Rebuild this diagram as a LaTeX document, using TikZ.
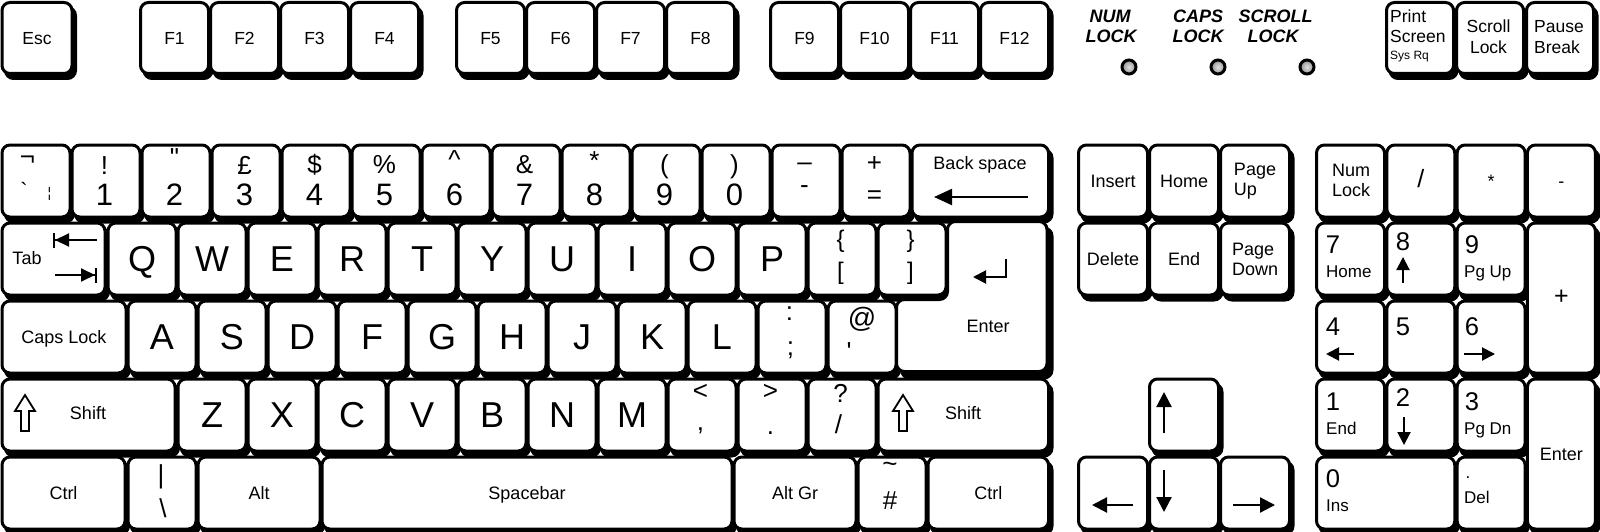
\documentclass[tikz,border=0pt]{standalone}
\usepackage{fontspec}
\setmainfont{Liberation Sans}
\newfontfamily\plainfont{Liberation Sans}
\usetikzlibrary{arrows.meta}
\newif\ifshadowpass
\newcommand\K[7][]{%
  \ifshadowpass
    \path[kshadow] (#3,#4) rectangle ++(#5,#6);%
  \else
    \node[keybox,minimum width=#5pt,minimum height=#6pt,#1] (#2) at (#3,#4) {#7};%
  \fi}
\newcommand\AllKeys{%
  % function row
  \K[fkey]{esc}{0.5}{1}{70}{71}{Esc}
  \foreach \n [count=\i from 0] in {1,2,3,4} {\K[fkey]{f\n}{139+70*\i}{1}{68}{71}{F\n}}
  \foreach \n [count=\i from 0] in {5,6,7,8} {\K[fkey]{f\n}{455+70*\i}{1}{68}{71}{F\n}}
  \foreach \n [count=\i from 0] in {9,10,11,12} {\K[fkey]{f\n}{769+70*\i}{1}{68}{71}{F\n}}
  \K{prt}{1385}{1}{67}{71}{}
  \K{scr}{1455}{1}{67}{71}{}
  \K{pau}{1525}{1}{67}{71}{}
  % number row
  \foreach \i in {0,...,12} {\K{num\i}{0.5+70*\i}{143.5}{68}{72}{}}
  \K{bksp}{910.5}{143.5}{136.5}{72}{}
  % qwerty row
  \K{tab}{0.5}{221.5}{103}{72}{}
  \foreach \l [count=\i from 0] in {Q,W,E,R,T,Y,U,I,O,P} {\K[bigl]{key\l}{106.5+70*\i}{221.5}{68}{72}{\l}}
  \K{lbrk}{806.5}{221.5}{68}{72}{}
  \K{rbrk}{876.5}{221.5}{68}{72}{}
  % home row
  \K{caps}{0.5}{299.5}{124}{72}{Caps Lock}
  \foreach \l [count=\i from 0] in {A,S,D,F,G,H,J,K,L} {\K[bigl]{key\l}{126.5+70*\i}{299.5}{68}{72}{\l}}
  \K{semi}{756.5}{299.5}{68}{72}{}
  \K{quot}{826.5}{299.5}{68}{72}{}
  \ifshadowpass
    \path[kshadow] (947.5,221.5) -- (1047,221.5) -- (1047,371.5) -- (896.5,371.5) -- (896.5,299.5) -- (947.5,299.5) -- cycle;
  \else
    \path[keypath] (947.5,221.5) -- (1047,221.5) -- (1047,371.5) -- (896.5,371.5) -- (896.5,299.5) -- (947.5,299.5) -- cycle;
  \fi
  % shift row
  \K{lshift}{0.5}{377.5}{173}{72}{}
  \foreach \l [count=\i from 0] in {Z,X,C,V,B,N,M} {\K[bigl]{key\l}{176.5+70*\i}{377.5}{68}{72}{\l}}
  \K{comma}{666.5}{377.5}{68}{72}{}
  \K{period}{736.5}{377.5}{68}{72}{}
  \K{slash}{806.5}{377.5}{68}{72}{}
  \K{rshift}{876.5}{377.5}{170.5}{72}{}
  % bottom row
  \K{lctrl}{0.5}{455.5}{123}{72}{Ctrl}
  \K{pipe}{126.5}{455.5}{68}{72}{}
  \K{alt}{196.5}{455.5}{122}{72}{Alt}
  \K{space}{320.5}{455.5}{410}{72}{Spacebar}
  \K{altgr}{732.5}{455.5}{122}{72}{Alt Gr}
  \K{hash}{856.5}{455.5}{68}{72}{}
  \K{rctrl}{926.5}{455.5}{120.5}{72}{Ctrl}
  % navigation
  \K{ins}{1077}{143.5}{69}{72}{Insert}
  \K{home}{1148}{143.5}{69}{72}{Home}
  \K{pgup}{1219}{143.5}{69}{72}{}
  \K{del}{1077}{221.5}{69}{72}{Delete}
  \K{end}{1148}{221.5}{69}{72}{End}
  \K{pgdn}{1219}{221.5}{69}{72}{}
  \K{up}{1148}{377.5}{69}{72}{}
  \K{left}{1077}{455.5}{69}{72}{}
  \K{down}{1148}{455.5}{69}{72}{}
  \K{right}{1219}{455.5}{69}{72}{}
  % numpad
  \K{nlk}{1315}{143.5}{68}{72}{}
  \K[font=\fontsize{25}{26}\selectfont]{pdiv}{1385.3}{143.5}{68}{72}{/}
  \K{pmul}{1455.6}{143.5}{68}{72}{*}
  \K{psub}{1525.9}{143.5}{68}{72}{-}
  \K{p7}{1315}{221.5}{68}{72}{}
  \K{p8}{1385.3}{221.5}{68}{72}{}
  \K{p9}{1455.6}{221.5}{68}{72}{}
  \K[font=\fontsize{25}{26}\selectfont]{padd}{1525.9}{221.5}{68}{150}{+}
  \K{p4}{1315}{299.5}{68}{72}{}
  \K{p5}{1385.3}{299.5}{68}{72}{}
  \K{p6}{1455.6}{299.5}{68}{72}{}
  \K{p1}{1315}{377.5}{68}{72}{}
  \K{p2}{1385.3}{377.5}{68}{72}{}
  \K{p3}{1455.6}{377.5}{68}{72}{}
  \K{pent}{1525.9}{377.5}{68}{150}{Enter}
  \K{p0}{1315}{455.5}{138.3}{72}{}
  \K{pdot}{1455.6}{455.5}{68}{72}{}
}
\begin{document}
\begin{tikzpicture}[x=1pt,y=-1pt,
  keybox/.style={draw=black, line width=3pt, fill=white, rounded corners=8pt, anchor=north west,
    inner sep=0pt, font=\fontsize{18}{20}\selectfont, text height=12.9pt, text depth=0pt},
  keypath/.style={draw=black, line width=3pt, fill=white, rounded corners=8pt},
  kshadow/.style={draw=black, fill=black, line width=3pt, rounded corners=8pt},
  fkey/.style={font=\fontsize{17.5}{19}\selectfont, text height=12.5pt},
  bigl/.style={font=\fontsize{36}{40}\selectfont, text height=25.8pt},
  sym/.style={inner sep=0pt, font=\fontsize{26}{28}\selectfont},
  psym/.style={inner sep=0pt, font=\fontsize{26}{28}\plainfont},
  dig/.style={inner sep=0pt, font=\fontsize{31}{33}\selectfont},
  txt/.style={inner sep=0pt, font=\fontsize{18}{20}\selectfont, text height=12.9pt, text depth=0pt},
  two/.style={inner sep=0pt, align=left, font=\fontsize{18}{20}\selectfont},
  subl/.style={inner sep=0pt, anchor=west, font=\fontsize{17}{19}\selectfont, text height=12.2pt, text depth=0pt},
  pdig/.style={inner sep=0pt, font=\fontsize{25.6}{27}\selectfont},
  ledtxt/.style={inner sep=0pt, font=\fontsize{18}{20}\selectfont\bfseries\itshape, text height=12.9pt, text depth=0pt},
  ledc/.style={circle, draw=black, line width=3pt, minimum size=14pt, inner sep=0pt, inner color=gray!25, outer color=gray!85},
  arrA/.style={line width=2.2pt, -{Triangle[length=15pt,width=15pt]}},
  arrB/.style={line width=2pt, -{Triangle[length=13pt,width=13pt]}},
  arrC/.style={line width=2.2pt, -{Triangle[length=18pt,width=16pt]}},
  arrT/.style={line width=2pt, -{Triangle[length=14pt,width=13pt] Bar[width=15pt,line width=2pt]}},
  shiftar/.style={draw=black, line width=1.8pt, fill=white, line join=miter}
]
\useasboundingbox (0,0) rectangle (1600,532);
\begin{scope}[shift={(5,6.5)}]
  \shadowpasstrue
  \AllKeys
\end{scope}
\shadowpassfalse
\AllKeys

% print screen cluster
\node[subl, font=\fontsize{17.5}{19}\selectfont] (prt1) at (1390,16.3) {Print};
\node[subl, font=\fontsize{17.5}{19}\selectfont] (prt2) at (1390,36.7) {Screen};
\node[subl, font=\fontsize{12}{13}\selectfont, text height=8.6pt] (prt3) at (1390,55.5) {Sys Rq};
\node[txt, font=\fontsize{17.5}{19}\selectfont] (scr1) at (1488.5,26.3) {Scroll};
\node[txt, font=\fontsize{17.5}{19}\selectfont] (scr2) at (1488.5,47.4) {Lock};
\node[subl, font=\fontsize{17.5}{19}\selectfont] (pau1) at (1534,26.3) {Pause};
\node[subl, font=\fontsize{17.5}{19}\selectfont] (pau2) at (1534,47.4) {Break};

% LEDs
\node[ledtxt] (nl1) at (1110,16) {NUM};
\node[ledtxt] (nl2) at (1111,36) {LOCK};
\node[ledtxt] (cl1) at (1198,16) {CAPS};
\node[ledtxt] (cl2) at (1198,36) {LOCK};
\node[ledtxt] (sl1) at (1275.5,16) {SCROLL};
\node[ledtxt] (sl2) at (1273,36) {LOCK};
\node[ledc] (led1) at (1129,67) {};
\node[ledc] (led2) at (1218,67) {};
\node[ledc] (led3) at (1307,67) {};

% number row
\node[sym] (gr1) at (27.5,161) {¬};
\node[psym, font=\fontsize{22}{24}\plainfont] (gr2) at (24,190) {`};
\node[sym, font=\fontsize{14}{16}\selectfont] (gr3) at (49.5,193.5) {¦};
\node[sym] (s1) at (104.5,166) {!};
\node[psym] (s2) at (174.5,158) {"};
\node[sym] (s3) at (244.5,165) {£};
\node[sym] (s4) at (314.5,165) {\$};
\node[sym] (s5) at (384.5,165) {\%};
\node[sym] (s6) at (454.5,160) {\textasciicircum};
\node[sym] (s7) at (524.5,165) {\&};
\node[sym] (s8) at (594.5,161) {*};
\node[sym] (s9) at (664.5,167) {(};
\node[sym] (s0) at (734.5,167) {)};
\node[sym] (smin) at (804.5,167) {–};
\node[sym] (splus) at (874.5,164) {+};
\foreach \d [count=\i] in {1,2,3,4,5,6,7,8,9,0} {\node[dig] (d\d) at (34.5+70*\i,195) {\d};}
\node[sym] (dmin) at (804.5,190) {-};
\node[sym] (deq) at (874.5,197) {=};
\node[txt] (bstxt) at (980,163) {Back space};
\draw[arrC] (1028,197) -- (934,197);

% qwerty row
\node[txt] (tabtxt) at (27,258) {Tab};
\draw[arrT] (97,240) -- (53,240);
\draw[arrT] (55,275) -- (97,275);
\node[sym, font=\fontsize{24}{26}\selectfont] (lb1) at (840.5,241) {\{};
\node[sym, font=\fontsize{24}{26}\selectfont] (lb2) at (840.5,273) {[};
\node[sym, font=\fontsize{24}{26}\selectfont] (rb1) at (910.5,241) {\}};
\node[sym, font=\fontsize{24}{26}\selectfont] (rb2) at (910.5,273) {]};
\draw[arrB] (1006,259) -- (1006,277) -- (973,277);
\node[txt] (entxt) at (988,326.5) {Enter};

% home row
\node[sym] (co1) at (789.5,314) {:};
\node[sym] (co2) at (790.5,350) {;};
\node[sym, font=\fontsize{28}{30}\selectfont] (at1) at (862,319) {@};
\node[psym] (at2) at (849,352) {'};

% shift row
\draw[shiftar] (25,395) -- (35,411) -- (29,411) -- (29,431) -- (21,431) -- (21,411) -- (15,411) -- cycle;
\node[txt] (lshtxt) at (88,413) {Shift};
\draw[shiftar] (903,395) -- (913,411) -- (907,411) -- (907,431) -- (899,431) -- (899,411) -- (893,411) -- cycle;
\node[txt] (rshtxt) at (963,413) {Shift};
\node[sym] (lt1) at (700.5,392) {<};
\node[sym] (lt2) at (700.5,431) {,};
\node[sym] (gt1) at (770.5,392) {>};
\node[sym] (gt2) at (770.5,433) {.};
\node[sym] (qm1) at (840.5,393) {?};
\node[sym] (qm2) at (838.5,424) {/};

% bottom row
\node[sym] (pp1) at (161,477) {\textbar};
\node[sym] (pp2) at (163,508) {\textbackslash};
\node[sym] (hs1) at (890,467) {\textasciitilde};
\node[sym] (hs2) at (890,501) {\#};

% navigation
\node[two] (pguptxt) at (pgup.center) {Page\\Up};
\node[two] (pgdntxt) at (pgdn.center) {Page\\Down};
\draw[arrA] (1164,433) -- (1164,392);
\draw[arrA] (1133,505) -- (1092,505);
\draw[arrA] (1164,470) -- (1164,512);
\draw[arrA] (1233,505) -- (1275,505);

% numpad
\node[two] (nlktxt) at (1351,180) {Num\\Lock};
\node[pdig] (n7) at (1333,245) {7};
\node[subl] (n7b) at (1326,271.7) {Home};
\node[pdig] (n8) at (1403,242) {8};
\draw[arrB] (1403,283) -- (1403,257);
\node[pdig] (n9) at (1472,245) {9};
\node[subl] (n9b) at (1464,271) {Pg Up};
\node[pdig] (n4) at (1333,327) {4};
\draw[arrB] (1354,354) -- (1326,354);
\node[pdig] (n5) at (1403,326.5) {5};
\node[pdig] (n6) at (1472,326.5) {6};
\draw[arrB] (1464,354) -- (1495,354);
\node[pdig] (n1) at (1333,401.7) {1};
\node[subl] (n1b) at (1326,428) {End};
\node[pdig] (n2) at (1403,398) {2};
\draw[arrB] (1404,417) -- (1404,445);
\node[pdig] (n3) at (1472,401.7) {3};
\node[subl] (n3b) at (1464,428) {Pg Dn};
\node[pdig] (n0) at (1333,479) {0};
\node[subl] (n0b) at (1326,505) {Ins};
\node[sym, font=\fontsize{17}{19}\selectfont] (ndot) at (1468,478) {.};
\node[subl] (ndel) at (1464,497) {Del};
\end{tikzpicture}
\end{document}
